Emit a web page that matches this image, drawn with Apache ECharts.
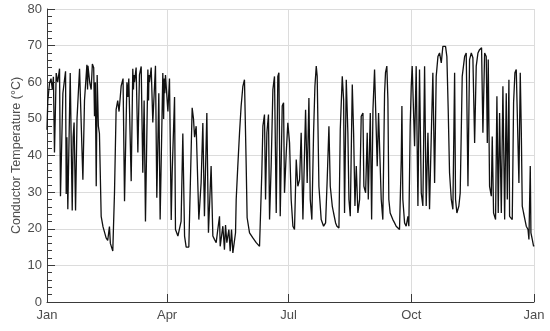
<!DOCTYPE html>
<html>
<head>
<meta charset="utf-8">
<script src="https://cdn.jsdelivr.net/npm/echarts@6/dist/echarts.min.js"></script>
<style>
html,body{margin:0;padding:0;background:#fff;}
#chart{width:550px;height:331px;}
</style>
</head>
<body>
<div id="chart"></div>
<script>
// Tick positions (day of year) and labels
const tickDays = [0, 90, 181, 273, 365];
const tickLabels = ['Jan', 'Apr', 'Jul', 'Oct', 'Jan'];

// Conductor temperature (°C) as [day of year, value] turning points
const janFeb = [
  [0,47],[0.6,55],[1.9,59.8],[3,61],[4,58],[4.8,61.5],[5.6,40.8],[6.9,62.5],[8,60],[9.4,63.7],
  [10.1,28.9],[11.9,57],[13.9,63],[14.4,29.5],[14.9,45],[15.6,25.3],[17.4,62.5],[18.9,25],[19.6,45],
  [20.3,49],[21.4,25],[22.5,50],[24.4,63.7],[25.6,63.5],[26.9,33.4],[28.1,55],[29.9,64.8],[30.4,58],
  [30.7,64.5],[31,64],[32,60],[33.1,58],[34,65],[35,64],[35.6,50.7],[36.2,60],[36.9,31.6],[37.6,62],
  [38.5,48],[39.3,46],[40.6,23.4],[42,20.5],[44.3,17.5],[45.5,16.8],[46.8,20.6],[47.5,16],[49.3,13.9],
  [50.6,30],[51.8,52.5],[53,55],[54,52],[55.6,59],[57,61],[58.1,27.5]
];
const marApr = [
  [59.9,60],[60.6,56],[61.3,61],[63.1,33],[64.3,63.7],[64.8,58],[65.2,62],[65.6,60],[66.8,64],
  [68.1,40.8],[69.3,62],[70.6,64.3],[71.8,35.3],[72.8,55],[73.8,22],[75.6,63.5],[76.1,55],[76.4,62],
  [76.8,60],[78.1,64],[79.3,49],[81.3,64.5],[82.3,28.5],[83.8,57],[84.8,22.5],[86.8,62.5],[87.4,50],
  [87.9,61],[88.3,57],[88.8,62],[90.6,52],[91.8,61],[93.1,22.4],[93.8,35],[95.6,56],[96.3,19.8],
  [98.1,18],[99.3,17.5],[100.5,22],[101.8,46],[103.1,18],[104.3,15],[106.3,15],[108.8,53],[109.8,50],
  [110.6,45],[111.8,48],[113.8,22.5],[115.5,32.5],[116.8,48.9],[118,23.4],[119.8,51.6]
];
const mayJun = [
  [121,18.9],[123,37.1],[124.3,18],[125.5,17.1],[126.8,16.2],[128,19.8],[129.3,23.4],[129.8,15.2],
  [131.8,20.7],[133,14.3],[133.8,21],[134.8,16.2],[136.3,19.8],[137.3,13.9],[138.3,19.8],[139.3,13.4],
  [140.5,13.9],[141.3,18.9],[141.8,28],[143,37.1],[144.3,46.2],[145.5,53.5],[146.8,58.9],[148,60.7],
  [148.8,60.7],[149.3,37.1],[150,23],[151.8,18.9],[154.3,17.5],[156.8,16.2],[159.3,15.2],[160.5,15.2],
  [161,35.3],[161.8,48],[163,51.2],[163.8,28],[164.8,46.2],[166,51.2],[166.8,22.5],[168,37.1],
  [169.3,58],[170.5,61.6],[171.8,24.3],[173,61.6],[173.8,62.6],[174.8,23.4],[176.3,53.5],[177.3,54.4],
  [178,29.8],[179.3,40.7]
];
const julAug = [
  [180.5,48.9],[181.8,43.4],[183,28],[184.3,20.7],[185.5,19.8],[186.8,38.9],[188,31.6],[189.3,33.4],
  [190.5,46.2],[191.8,22.5],[193.8,52.5],[195,32.5],[196.3,55.7],[197.3,28],[198.5,22.5],[199.8,46.2],
  [200.8,58.9],[201.8,64.4],[202.5,61.6],[203.8,31.6],[205.5,22.5],[207.3,20.7],[208.8,21.6],[210,33.4],
  [211.3,48],[212.3,31.6],[213.8,26.2],[214.8,24.3],[216.3,21.6],[217.3,20.7],[218.8,20.2],[219.8,47.1],
  [221.3,61.6],[222.3,55.3],[223,24.3],[224.3,60.7],[225.5,46.2],[226.3,28],[227.3,23.4],[228.8,59.4],
  [229.8,46.2],[230.8,26.2],[231.8,37.1],[233,24.3],[234.3,28],[235.5,50.7],[236.8,51.6],[237.5,31.6],
  [238.8,29.8],[240,46.2],[240.8,28],[242.3,51.6]
];
const sepOct = [
  [243.3,22.5],[244.3,52.5],[245.5,63.5],[246.8,63.9],[247.5,37.1],[248.5,51.6],[250.5,28],[251.7,22.5],
  [253,57],[253.7,62.6],[254.7,64.4],[255.5,55.3],[256.2,28],[257.2,24.3],[259.2,22.5],[260.5,21.6],
  [261.7,20.7],[264.2,19.8],[265.5,38.9],[266,53.5],[266.7,28],[268,21.6],[269.2,20.7],[270.5,23.4],
  [271.2,20.7],[272.2,48],[273,58.9],[273.7,64.4],[274.7,64.4],[275.5,42.5],[276.7,64.4],[278,26.2],
  [279.2,63.5],[280.5,29.8],[281.7,26.2],[283,64.4],[284.2,26.2],[285.5,46.2],[286.7,25.3],[288,45.2],
  [289.2,62.6],[290.5,32.5],[291.7,61.6],[293,67],[294.2,68],[295.5,65.3],[296.7,69.8],[298.7,69.8],
  [299.7,67],[300.7,52.5],[301.7,35.3],[303,28]
];
const novDec = [
  [304.2,25.3],[305.5,62.6],[306.2,28],[307.2,24.3],[308.7,26.2],[309.7,29.8],[311.2,61.6],[313,67],
  [314.2,68],[315.5,31.6],[316.7,66.2],[318,68],[319.2,66.7],[320.5,43.4],[321.7,64.4],[323,68],
  [324.2,68.9],[325.7,69.4],[326.7,46.2],[328,68],[329.2,67],[330,43.4],[330.7,66.2],[331.7,31.6],
  [333,28.9],[333.7,45.2],[334.7,24.3],[336.2,22.5],[337.2,56.2],[338.2,24.3],[339.2,51.6],[340.5,24.3],
  [341.7,58.9],[343,22.5],[344.2,57],[345,28],[346.2,60.7],[346.7,23.4],[348.7,22.5],[349.7,54.4],
  [350.7,62.6],[351.7,63.5],[353,63.9],[353.7,32.5],[354.7,62.6],[355.5,46.2],[356.2,26.2],[357.2,24.3],
  [358.2,22.5],[359.2,20.7],[360.5,19.8],[361.2,17.1],[362.2,37.1],[362.7,18.9],[363.7,17.1],[364.7,15.2],
  [365,15.5]
];

const seriesData = [].concat(janFeb, marApr, mayJun, julAug, sepOct, novDec);

const chart = echarts.init(document.getElementById('chart'), null, {renderer: 'canvas'});
const textColor = '#4d4d4d';
const axisColor = '#3a3a3a';
const gridColor = '#dcdcdc';
chart.setOption({
  animation: false,
  backgroundColor: '#fff',
  grid: {left: 47, right: 16, top: 9, bottom: 29, containLabel: false, outerBoundsMode: 'none'},
  xAxis: {
    type: 'value', min: 0, max: 365,
    axisLine: {show: true, onZero: false, lineStyle: {color: axisColor, width: 1}},
    axisTick: {show: true, inside: true, length: 8, customValues: tickDays, lineStyle: {color: axisColor}},
    axisLabel: {
      customValues: tickDays, color: textColor, fontSize: 13, margin: 7,
      fontFamily: 'Liberation Sans, Arial, sans-serif',
      formatter: function (v) { const i = tickDays.indexOf(v); return i >= 0 ? tickLabels[i] : ''; }
    },
    splitLine: {show: true, lineStyle: {color: gridColor, width: 1}}
  },
  yAxis: {
    type: 'value', min: 0, max: 80, interval: 10,
    name: 'Conductor Temperature (°C)', nameLocation: 'middle', nameGap: 24, nameMoveOverlap: false,
    nameTextStyle: {color: textColor, fontSize: 12.5, fontFamily: 'Liberation Sans, Arial, sans-serif'},
    axisLine: {show: true, lineStyle: {color: axisColor, width: 1}},
    axisTick: {show: true, inside: true, length: 8, lineStyle: {color: axisColor}},
    minorTick: {show: true, splitNumber: 5, length: 5, lineStyle: {color: axisColor}},
    axisLabel: {color: textColor, fontSize: 13, margin: 5, fontFamily: 'Liberation Sans, Arial, sans-serif'},
    splitLine: {show: true, lineStyle: {color: gridColor, width: 1}}
  },
  series: [{
    type: 'line', data: seriesData, showSymbol: false, symbol: 'none', smooth: false,
    sampling: null,
    lineStyle: {color: '#111', width: 1.3},
    z: 3
  }]
});
</script>
</body>
</html>
